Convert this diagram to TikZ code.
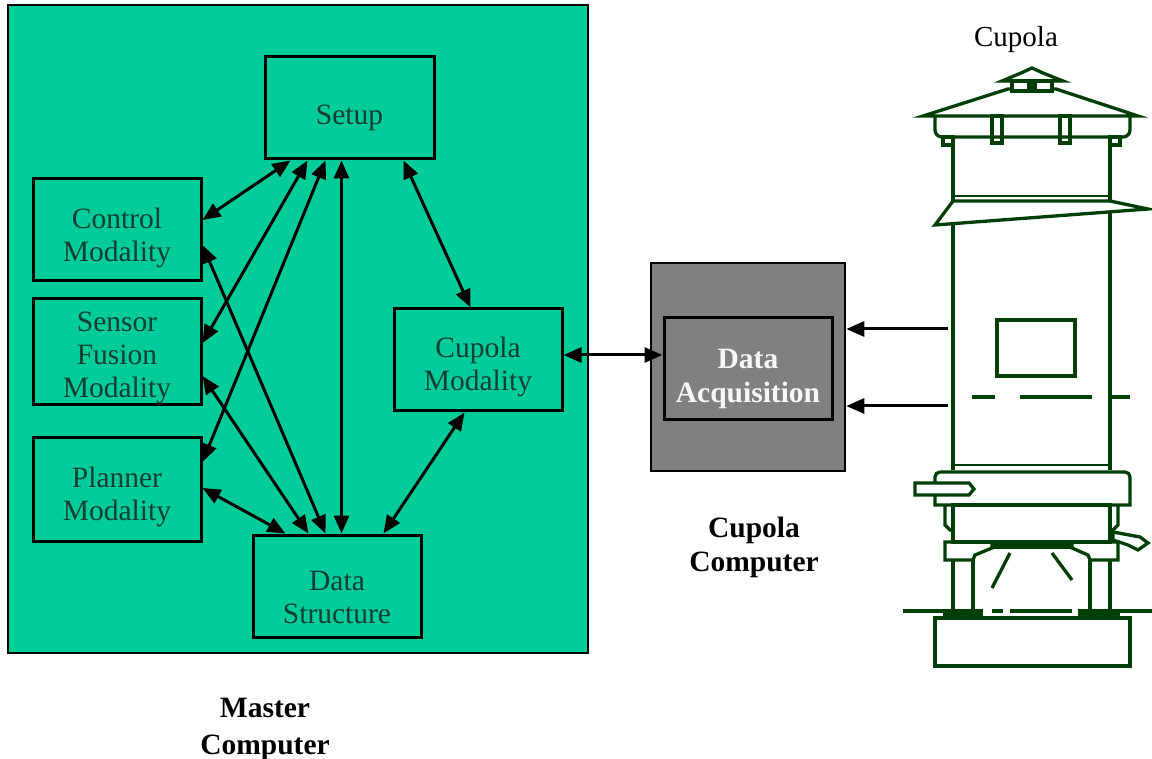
\documentclass[tikz,border=0pt]{standalone}
\usepackage{fontspec}
\setmainfont{Liberation Serif}
\usetikzlibrary{arrows.meta}
\definecolor{panelgreen}{RGB}{0,204,153}
\definecolor{boxtext}{RGB}{20,62,52}
\definecolor{daqgray}{RGB}{128,128,130}
\definecolor{cupline}{RGB}{0,62,8}
\begin{document}
\begin{tikzpicture}[x=1pt,y=-1pt,
  modbox/.style={draw=black, line width=3pt, fill=panelgreen,
    minimum width=168pt, minimum height=102pt, inner sep=0pt},
  modtext/.style={text=boxtext, align=center, inner sep=0pt,
    font=\fontsize{29.5}{33}\selectfont},
  link/.style={line width=3pt,
    {Triangle[length=18pt,width=15pt]}-{Triangle[length=18pt,width=15pt]}},
  feed/.style={line width=3pt, -{Triangle[length=18pt,width=15pt]}},
  caption/.style={align=center, inner sep=0pt, font=\bfseries\fontsize{29.5}{36}\selectfont},
  cup/.style={draw=cupline, line width=3.3pt, line join=miter},
  cupfill/.style={cup, fill=white}]
\useasboundingbox (0,0) rectangle (1152,759);
\fill[white] (0,0) rectangle (1152,759);

% master computer panel
\node[draw=black, line width=2.6pt, fill=panelgreen, minimum width=580pt,
  minimum height=648pt, inner sep=0pt] (master) at (298,329) {};

% modality boxes
\node[modbox, minimum width=169pt] (setup) at (349.5,108) {};
\node[modbox] (control) at (117,230) {};
\node[modbox, minimum height=106pt] (sensor) at (117,352) {};
\node[modbox, minimum height=104pt] (planner) at (117,489) {};
\node[modbox] (ds) at (337,586) {};
\node[modbox] (cupmod) at (478,360) {};

% box texts
\node[modtext] (setup-t) at ([yshift=-10pt]setup.center) {Setup};
\node[modtext] (control-t) at ([yshift=-8pt]control.center) {Control\\Modality};
\node[modtext] (sensor-t) at ([yshift=-6pt]sensor.center) {Sensor\\Fusion\\Modality};
\node[modtext] (planner-t) at ([yshift=-8pt]planner.center) {Planner\\Modality};
\node[modtext] (ds-t) at ([yshift=-11pt]ds.center) {Data\\Structure};
\node[modtext] (cupmod-t) at ([yshift=-7pt]cupmod.center) {Cupola\\Modality};

% cupola computer
\node[draw=black, line width=2.6pt, fill=daqgray, minimum width=194pt,
  minimum height=208pt, inner sep=0pt] (cupcomp) at (748,367) {};
\node[modbox, fill=daqgray] (daq) at (748,368.5) {};
\node[align=center, inner sep=0pt, text=white!94!gray,
  font=\bfseries\fontsize{29.5}{34}\selectfont] (daq-t) at ([yshift=-10pt]daq.center) {Data\\Acquisition};

% labels
\node[caption, font=\bfseries\fontsize{29.5}{37}\selectfont] (mlabel) at (265,729) {Master\\Computer};
\node[caption, font=\bfseries\fontsize{29.5}{34}\selectfont] (clabel) at (754,547) {Cupola\\Computer};
\node[font=\fontsize{29}{33}\selectfont, inner sep=0pt] (cuplabel) at (1016,40) {Cupola};

% connections inside the master computer
\draw[link] ([xshift=27pt]setup.south west) -- ([yshift=10pt]control.east);
\draw[link] ([xshift=44pt]setup.south west) -- ([yshift=9pt]sensor.east);
\draw[link] ([xshift=62pt]setup.south west) -- ([yshift=27pt]planner.east);
\draw[link] ([xshift=78pt]setup.south west) -- ([xshift=90pt]ds.north west);
\draw[link] ([yshift=-15pt]control.east) -- ([xshift=74pt]ds.north west);
\draw[link] ([yshift=-24pt]sensor.east) -- ([xshift=57pt]ds.north west);
\draw[link] ([yshift=1pt]planner.east) -- ([xshift=34pt]ds.north west);
\draw[link] ([xshift=72pt]cupmod.south west) -- ([xshift=132pt]ds.north west);
\draw[link] ([xshift=140pt]setup.south west) -- ([xshift=78pt]cupmod.north west);
\draw[link] ([yshift=5pt]cupmod.east) -- ([yshift=13.5pt]daq.west);

% sensor feeds from the cupola
\coordinate (tapA) at (948,329);
\coordinate (tapB) at (948,406);
\draw[feed] (tapA) -- (tapA -| cupcomp.east);
\draw[feed] (tapB) -- (tapB -| cupcomp.east);

% ---- cupola furnace ----
% roof and cap
\draw[cup] (923,116) -- (1008,89) -- (1056,89) -- (1138,116) -- cycle;
\draw[cupfill] (1002,81) -- (1021,73) -- (1032,68) -- (1043,73) -- (1063,81) -- cycle;
\draw[cupfill] (1012,81) rectangle (1052,91);
\fill[cupline] (1027,81) rectangle (1037,93);
% eave band and brackets
\draw[cup] (935,116) -- (935,130) to[out=-90,in=180] (942,137) -- (1123,137)
  to[out=0,in=-90] (1130,130) -- (1130,116);
\draw[cup] (992,116) rectangle (1002,143);
\draw[cup] (1060,116) rectangle (1070,143);
\draw[cup] (943,137) rectangle (953,145);
\draw[cup] (1110,137) rectangle (1120,145);
% shaft
\draw[cup] (953,137) -- (953,470);
\draw[cup] (1110,137) -- (1110,470);
\draw[cup, line width=2.2pt] (953,196) -- (1110,196);
\draw[cupfill] (953,201) -- (1110,201) -- (1148,209) -- (935,225) -- cycle;
% charging door and tuyere level marks
\draw[cup, line width=3.8pt] (997,320) rectangle (1075,376);
\draw[cup] (972,397) -- (995,397);
\draw[cup] (1020,397) -- (1092,397);
\draw[cup] (1110,397) -- (1130,397);
% wind belt
\draw[cup, line width=2.2pt] (953,465) -- (1110,465);
\draw[cup] (940,472) -- (1125,472) to[out=0,in=90] (1130,477) -- (1130,505)
  -- (935,505) -- (935,477) to[out=90,in=180] (940,472);
\draw[cupfill] (915,483) -- (969,483) -- (974,489) -- (969,495) -- (915,495) -- cycle;
% lower shell and brackets
\draw[cup] (953,505) rectangle (1110,542);
\draw[cup] (945,505) -- (945,525) -- (950,530) -- (953,530);
\draw[cup] (1118,505) -- (1118,525) -- (1113,530) -- (1110,530);
\draw[cupfill] (1113,532) -- (1140,537) -- (1148,543) -- (1138,550) -- (1128,545) -- (1113,540) -- cycle;
% bottom plate and legs
\draw[cup] (945,542) -- (992,542) -- (992,548) -- (975,555) -- (973,560) -- (945,560) -- cycle;
\draw[cup] (1072,542) -- (1118,542) -- (1118,560) -- (1090,560) -- (1088,555) -- (1072,548) -- cycle;
\fill[cupline] (992,541) rectangle (1072,549);
\draw[cup] (953,560) -- (953,611);
\draw[cup] (973,560) -- (973,611);
\draw[cup] (1090,560) -- (1090,611);
\draw[cup] (1110,560) -- (1110,611);
% tap stream
\draw[cup] (1010,553) -- (992,588);
\draw[cup] (1052,553) -- (1072,580);
% ground line and foundation
\draw[cup] (903,611) -- (943,611);
\draw[cup] (992,611) -- (1003,611);
\draw[cup] (1010,611) -- (1072,611);
\draw[cup] (1120,611) -- (1152,611);
\fill[cupline] (943,609) rectangle (983,619);
\fill[cupline] (1078,609) rectangle (1120,619);
\draw[cup] (935,618) rectangle (1130,666);
\end{tikzpicture}
\end{document}
